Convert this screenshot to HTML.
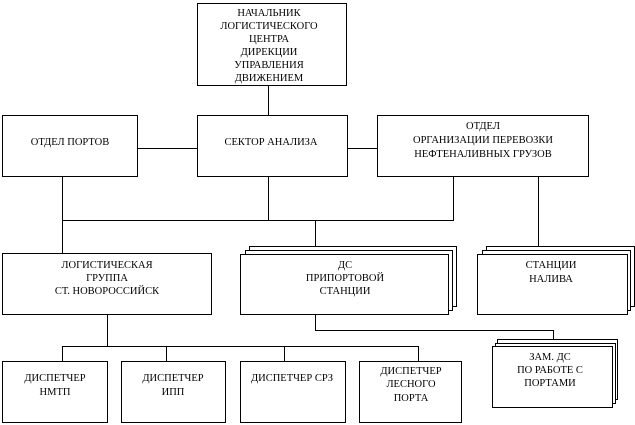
<!DOCTYPE html>
<html><head><meta charset="utf-8"><style>
html,body{margin:0;padding:0;background:#fff}
svg{display:block}
text{font-family:"Liberation Serif","DejaVu Serif",serif;font-size:10.5px;fill:#000;text-anchor:middle}
</style></head><body>
<svg width="635" height="425" viewBox="0 0 635 425" xmlns="http://www.w3.org/2000/svg">
<g fill="#fff" stroke="#000" stroke-width="1">
<path d="M268.5 86V115M137 148.5H197M347 148.5H377M62.5 176V254M268.5 176V220.5M453.5 176V220.5M62 220.5H454M315.5 220.5V248M538.5 176V248M107.5 314V346.5M62 346.5H419M62.5 346V361M166.5 346V361M284.5 346V361M418.5 346V361M315.5 314V330.5H553.5V339" fill="none"/>
<rect x="197.5" y="3.5" width="149" height="82"/>
<rect x="2.5" y="115.5" width="135" height="61"/>
<rect x="197.5" y="115.5" width="150" height="61"/>
<rect x="377.5" y="115.5" width="211" height="61"/>
<rect x="2.5" y="253.5" width="209" height="61"/>
<rect x="249.5" y="246.5" width="207" height="60"/>
<rect x="245.5" y="250.5" width="207" height="60"/>
<rect x="240.5" y="254.5" width="208" height="60"/>
<rect x="486.5" y="246.5" width="148" height="60"/>
<rect x="482.5" y="250.5" width="148" height="60"/>
<rect x="477.5" y="254.5" width="150" height="60"/>
<rect x="497.5" y="339.5" width="120" height="60"/>
<rect x="495.5" y="343.5" width="120" height="60"/>
<rect x="492.5" y="346.5" width="120" height="61"/>
<rect x="2.5" y="361.5" width="105" height="61"/>
<rect x="121.5" y="361.5" width="104" height="61"/>
<rect x="240.5" y="361.5" width="105" height="61"/>
<rect x="359.5" y="361.5" width="102" height="61"/>
</g>
<text x="269" y="16">НАЧАЛЬНИК</text>
<text x="269" y="29">ЛОГИСТИЧЕСКОГО</text>
<text x="269" y="42">ЦЕНТРА</text>
<text x="269" y="55">ДИРЕКЦИИ</text>
<text x="269" y="68">УПРАВЛЕНИЯ</text>
<text x="269" y="81">ДВИЖЕНИЕМ</text>
<text x="70" y="145">ОТДЕЛ ПОРТОВ</text>
<text x="271" y="145">СЕКТОР АНАЛИЗА</text>
<text x="483" y="129">ОТДЕЛ</text>
<text x="483" y="143">ОРГАНИЗАЦИИ ПЕРЕВОЗКИ</text>
<text x="483" y="157">НЕФТЕНАЛИВНЫХ ГРУЗОВ</text>
<text x="107" y="268">ЛОГИСТИЧЕСКАЯ</text>
<text x="107" y="281">ГРУППА</text>
<text x="107" y="294">СТ. НОВОРОССИЙСК</text>
<text x="345" y="268">ДС</text>
<text x="345" y="281">ПРИПОРТОВОЙ</text>
<text x="345" y="294">СТАНЦИИ</text>
<text x="551" y="268">СТАНЦИИ</text>
<text x="551" y="282">НАЛИВА</text>
<text x="550" y="360">ЗАМ. ДС</text>
<text x="550" y="373">ПО РАБОТЕ С</text>
<text x="550" y="386">ПОРТАМИ</text>
<text x="55" y="381">ДИСПЕТЧЕР</text>
<text x="55" y="395">НМТП</text>
<text x="173" y="381">ДИСПЕТЧЕР</text>
<text x="173" y="395">ИПП</text>
<text x="292" y="381">ДИСПЕТЧЕР СРЗ</text>
<text x="411" y="374">ДИСПЕТЧЕР</text>
<text x="411" y="387">ЛЕСНОГО</text>
<text x="411" y="401">ПОРТА</text>
</svg>
</body></html>
